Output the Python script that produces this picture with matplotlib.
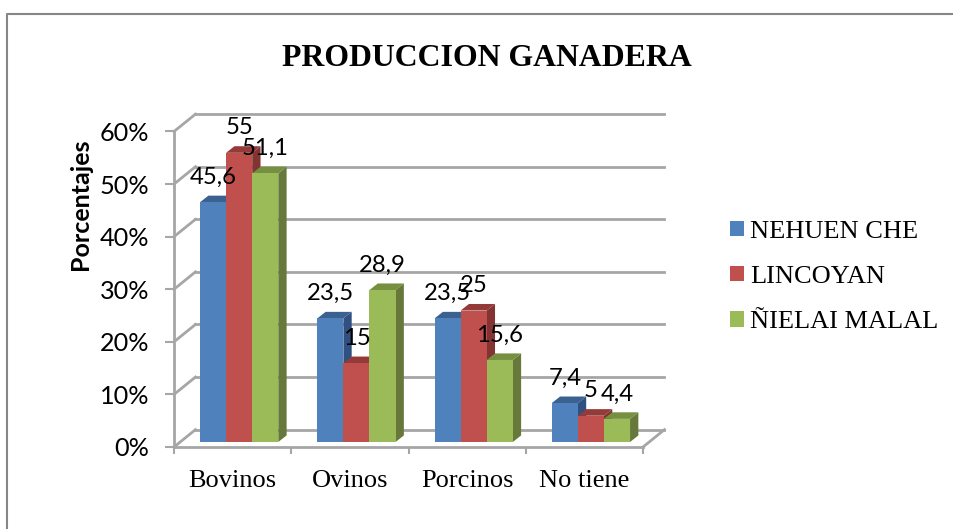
import matplotlib
matplotlib.use("Agg")
import matplotlib.pyplot as plt
from matplotlib.lines import Line2D
from matplotlib.patches import Patch

categories = ["Bovinos", "Ovinos", "Porcinos", "No tiene"]
nehuen = [45.6, 23.5, 23.5, 7.4]
lincoyan = [55, 15, 25, 5]
nielai = [51.1, 28.9, 15.6, 4.4]
names = ["NEHUEN CHE", "LINCOYAN", "ÑIELAI MALAL"]
yticks = [0, 10, 20, 30, 40, 50, 60]

front = ["#4F81BD", "#C0504D", "#9BBB59"]
top = ["#3A6190", "#943A38", "#76903F"]
side = ["#2F5080", "#833331", "#67793A"]
gray = "#A6A6A6"

W, H = 954, 529
fig = plt.figure(figsize=(W / 100, H / 100), dpi=100)
ax = fig.add_axes([174 / W, (H - 447) / H, 469 / W, 315.5 / H])
ax.set_xlim(0, 4)
ax.set_ylim(0, 60)

# depth of the walls and of the bars, in data units
wall_dx, wall_dy = 0.183, 3.3
bar_dx, bar_dy = 0.071, 1.25
base = 0.95
bw = 0.2225
start = 0.222

# back wall lines
for t in yticks:
    ax.plot([0, wall_dx], [t, t + wall_dy], color=gray, lw=2, clip_on=False, zorder=1)
    ax.plot([wall_dx, 4 + wall_dx], [t + wall_dy, t + wall_dy], color=gray, lw=2, clip_on=False, zorder=1)
ax.plot([4, 4 + wall_dx], [0, wall_dy], color=gray, lw=2, clip_on=False, zorder=1)

for s, values in enumerate([nehuen, lincoyan, nielai]):
    for i, v in enumerate(values):
        x0 = i + start + s * bw
        x1 = x0 + bw
        y1 = base + v
        ax.fill([x1, x1 + bar_dx, x1 + bar_dx, x1],
                [base, base + bar_dy, y1 + bar_dy, y1],
                color=side[s], lw=0, zorder=3 + s)
        ax.fill([x0, x0 + bar_dx, x1 + bar_dx, x1],
                [y1, y1 + bar_dy, y1 + bar_dy, y1],
                color=top[s], lw=0, zorder=3 + s)
        ax.bar(x0, v, bw, bottom=base, align="edge", color=front[s], lw=0, zorder=3 + s)

# data labels go on top of everything
for s, values in enumerate([nehuen, lincoyan, nielai]):
    for i, v in enumerate(values):
        ax.annotate(str(v).replace(".", ","), (i + start + (s + 0.5) * bw, base + v),
                    xytext=(0, 13.2), textcoords="offset points", ha="center", va="baseline",
                    family="Lato", fontsize=17.2, color="black", zorder=10)

for name in ["top", "right"]:
    ax.spines[name].set_visible(False)
for name in ["left", "bottom"]:
    ax.spines[name].set_color(gray)
    ax.spines[name].set_linewidth(2)

ax.set_yticks(yticks)
ax.set_yticklabels([str(t) + "%" for t in yticks], family="Lato", fontsize=18.2)
ax.set_xticks([0, 1, 2, 3, 4])
ax.set_xticklabels([])
ax.tick_params(axis="y", length=6.5, width=1.5, color=gray, pad=11.5)
ax.tick_params(axis="x", length=5, width=1.5, color=gray)
for i, c in enumerate(categories):
    ax.annotate(c, (i + 0.5, 0), xytext=(0, -24.5), textcoords="offset points", ha="center", va="center",
                family="Liberation Serif", fontsize=19)

fig.text(80 / W, 1 - 204 / H, "Porcentajes", rotation=90, ha="center", va="center",
         family="Lato", weight="bold", fontsize=18)
fig.text(486.5 / W, 1 - 59 / H, "PRODUCCION GANADERA", ha="center", va="center",
         family="Liberation Serif", weight="bold", fontsize=22.9)

handles = [Patch(color=c, lw=0) for c in front]
fig.legend(handles, names, loc="center left", bbox_to_anchor=(722 / W, 1 - 277 / H), frameon=False,
           prop={"family": "Liberation Serif", "size": 19}, handlelength=0.53, handleheight=0.53,
           handletextpad=0.23, labelspacing=0.88, borderpad=0.3, borderaxespad=0)

# outer chart frame
fig.add_artist(Line2D([7.5 / W, 7.5 / W, 1], [0, 1 - 13.5 / H, 1 - 13.5 / H], color="#868686", lw=1.5))

fig.savefig("out.png", dpi=100)
